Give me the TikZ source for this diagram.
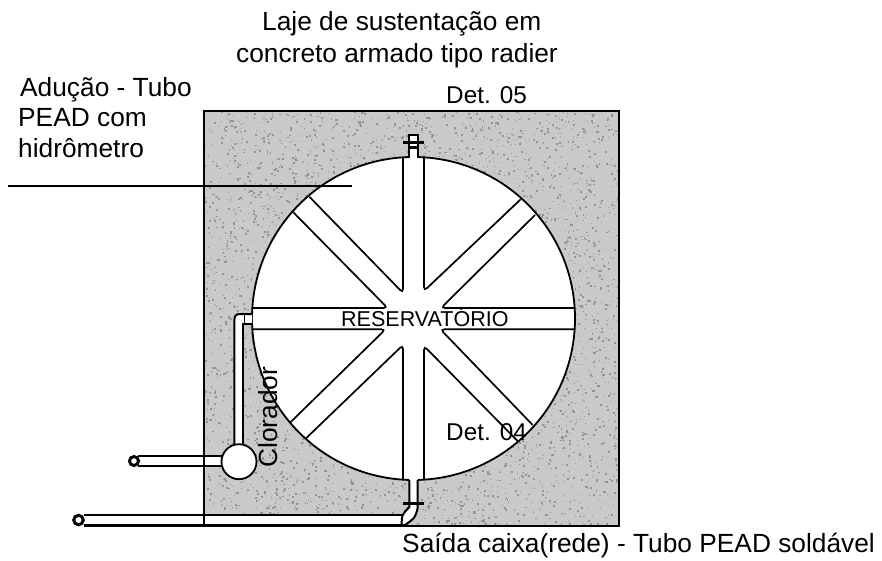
\documentclass[tikz,border=0pt]{standalone}
\usepackage{fontspec}
\setmainfont{Liberation Sans}
\definecolor{concreto}{HTML}{C8C9CB}
\definecolor{grao}{HTML}{939496}
\tikzset{
  wedge/.style={draw=black,line width=1.7pt,rounded corners=4pt},
  pipe/.style={draw=black,line width=2pt},
  ring/.style={draw=black,line width=3pt,fill=white},
  lab/.style={inner sep=0pt,anchor=base west,font=\fontsize{26.3}{30}\selectfont},
  labs/.style={inner sep=0pt,anchor=base west,font=\fontsize{24.3}{28}\selectfont}
}
\begin{document}
\begin{tikzpicture}[x=1pt,y=-1pt]
\useasboundingbox (0,0) rectangle (882,561);
% concrete slab
\fill[concreto] (204,111) rectangle (619,526);
\begin{scope}
\clip (204,111) rectangle (619,526);
\pgfmathsetseed{7}
\foreach \i in {1,...,4600}{
  \pgfmathsetmacro{\px}{204+rnd*415}
  \pgfmathsetmacro{\py}{111+rnd*415}
  \pgfmathsetmacro{\ps}{0.7+1.5*rnd}
  \fill[grao] (\px,\py) rectangle ++(\ps,\ps);
}
\end{scope}
% reservoir
\coordinate (centre) at (413.5,318.5);
\fill[white] (centre) circle[radius=161.5];
\draw[line width=1.8pt] (centre) circle[radius=161.5];
% radial channels (white arms bounded by eight wedges)
\draw[wedge] (424,158) -- (424,291) -- (520.7,199.3);
\draw[wedge] (535,215) -- (441,308) -- (574.6,308);
\draw[wedge] (574.6,329.3) -- (440.4,329.3) -- (532.7,425);
\draw[wedge] (518.3,441.7) -- (424,346) -- (424,479);
\draw[wedge] (403,479) -- (403,345) -- (306,438.3);
\draw[wedge] (290,422.7) -- (385.5,329.3) -- (252.4,329.3);
\draw[wedge] (252.4,308) -- (387.6,308) -- (293.3,212.3);
\draw[wedge] (309.3,196.7) -- (403,293) -- (403,158);
% top fitting
\fill[white] (408.5,135.5) rectangle (418,158);
\draw[pipe] (408.5,158) -- (408.5,135.5) -- (418,135.5) -- (418,158);
\fill[black] (408.5,146) rectangle (418,149);
\fill[black] (403,140.6) rectangle (423.5,144);
% bottom fitting and outlet
\fill[white] (409.3,479) -- (417.7,479) -- (417.7,508) .. controls (415,518) .. (405,525) -- (401.7,525) .. controls (401.7,517) .. (409.3,507) -- cycle;
\fill[white] (85,515) rectangle (402,525);
\draw[pipe] (409.3,480) -- (409.3,507) .. controls (401.7,515) .. (401.7,525);
\draw[pipe] (417.7,480) -- (417.7,508) .. controls (415,518) .. (405,525);
\fill[black] (403,501.5) rectangle (423.5,505);
\draw[pipe] (84,515) -- (401.7,515);
\draw[pipe,line width=2.4pt] (84,525.4) -- (405,525.4);
\node[ring,circle,minimum size=9.5pt,inner sep=0pt] (saida) at (78.5,520) {};
% chlorinator
\fill[white] (252,314) -- (240,314) .. controls (236,314) and (234.4,316) .. (234.4,320) -- (234.4,446) -- (243.3,446) -- (243.3,324) -- (252,324) -- cycle;
\draw[pipe] (252,314) -- (240,314) .. controls (236,314) and (234.4,316) .. (234.4,320) -- (234.4,446);
\draw[pipe] (243.3,446) -- (243.3,324) -- (252,324);
\draw[pipe,line width=1.2pt] (244.5,313) -- (244.5,324);
\fill[white] (138,456) rectangle (224,466);
\draw[pipe] (138,456) -- (224,456);
\draw[pipe] (138,466) -- (224,466);
\node[ring,circle,minimum size=9pt,inner sep=0pt] (clentrada) at (134,461) {};
\node[draw=black,line width=1.8pt,fill=white,circle,minimum size=35pt,inner sep=0pt] (clorador) at (239,461.7) {};
% slab outline, over the pipes
\draw[line width=2.2pt] (204,111) rectangle (619,526);
% leader
\coordinate (la) at (8,186);
\coordinate (lb) at (352,186);
\draw[line width=1.2pt] (la) -- (lb);
% labels
\node[lab] (t1) at (262,31) {Laje de sustentação em};
\node[lab] (t2) at (236,63) {concreto armado tipo radier};
\node[lab] (t3) at (20,97) {Adução - Tubo};
\node[lab] (t4) at (18,127) {PEAD com};
\node[lab] (t5) at (18,158) {hidrômetro};
\node[labs] (t6) at (446,104) {Det. 05};
\node[labs,font=\fontsize{21.5}{25}\selectfont] (t7) at (341,326) {RESERVATÓRIO};
\node[labs] (t8) at (446,440) {Det. 04};
\node[lab,rotate=90,anchor=base west] (t9) at (277,468) {Clorador};
\node[lab] (t10) at (402,552) {Saída caixa(rede) - Tubo PEAD soldável};
\end{tikzpicture}
\end{document}
